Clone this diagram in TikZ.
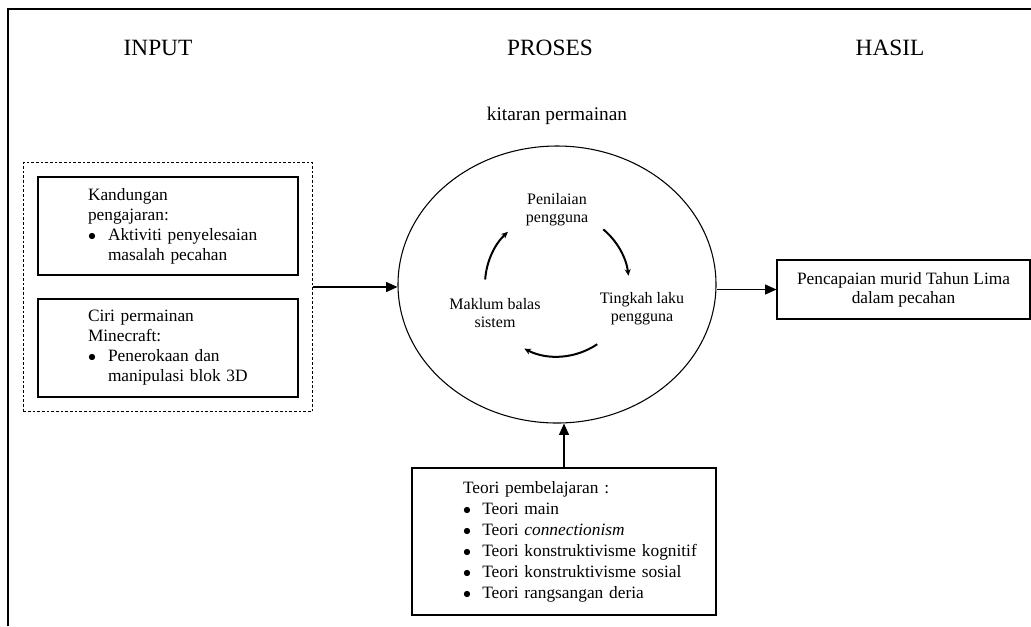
\documentclass[tikz,border=0pt]{standalone}
\usepackage{fontspec}
\setmainfont{Liberation Serif}
\usetikzlibrary{shapes.geometric, arrows.meta, fit}

\begin{document}
\begin{tikzpicture}[x=0.75pt, y=-0.75pt]
    \tikzstyle{head} = [font=\fontsize{17.5}{20}\selectfont, anchor=base]
    \tikzstyle{box} = [rectangle, draw, line width=0.8pt, text width=175pt, inner xsep=10pt, inner ysep=0pt, minimum height=73.5pt, align=left, font=\fontsize{13}{15}\selectfont]
    \tikzstyle{cyctext} = [align=center, inner sep=1pt, font=\fontsize{12}{13.5}\selectfont]
    \tikzstyle{line} = [draw, line width=0.8pt, -{Triangle[length=8.5pt, width=7.5pt]}]
    \tikzstyle{cyc} = [draw, line width=1.5pt, -{Stealth[length=5pt, width=4.5pt]}]

    \useasboundingbox (0,0) rectangle (1031,626);
    \draw[line width=2pt] (8,626) -- (8,9) -- (1031,9);

    % headings
    \node[head] (tinput) at (158,55) {INPUT};
    \node[head] (tproses) at (550,55) {PROSES};
    \node[head] (thasil) at (890,55) {HASIL};

    % input
    \node[box] (kandungan) at (168,226) {\leftskip=27.5pt Kandungan\\pengajaran:\\\makebox[15pt][l]{$\bullet$}Aktiviti penyelesaian\\\hspace*{15pt}masalah pecahan\par};
    \node[box] (ciri) at (168,348) {\leftskip=27.5pt Ciri permainan\\Minecraft:\\\makebox[15pt][l]{$\bullet$}Penerokaan dan\\\hspace*{15pt}manipulasi blok 3D\par};
    \node[draw, line width=0.6pt, dash pattern=on 2pt off 1.5pt, fit=(kandungan)(ciri), inner sep=10.5pt] (inputgrp) {};

    % proses
    \node[font=\fontsize{14.5}{16}\selectfont, anchor=base] (kitaranlbl) at (557,120) {kitaran permainan};
    \node[ellipse, draw, line width=0.8pt, minimum width=238.5pt, minimum height=207.75pt, inner sep=0pt] (kitaran) at (557,284.5) {};
    \node[cyctext] (penilaian) at (557,210) {Penilaian\\pengguna};
    \node[cyctext] (tingkah) at (642,309) {Tingkah laku\\pengguna};
    \node[cyctext] (maklum) at (495,313) {Maklum balas\\sistem};
    \foreach \a/\b in {176/133, 50/7, -56/-117}
        \draw[cyc] ([shift={(\a:54pt)}]kitaran.center) arc[start angle=\a, end angle=\b, radius=54pt];

    % hasil
    \node[rectangle, draw, line width=0.8pt, minimum width=189.75pt, minimum height=44.25pt, align=center, font=\fontsize{13}{14.25}\selectfont] (hasil) at (903.5,289.5) {Pencapaian murid Tahun Lima\\dalam pecahan};

    % teori
    \node[box, text width=208pt, minimum height=110.25pt, font=\fontsize{13}{15.75}\selectfont] (teori) at (564,541.5) {\leftskip=28.25pt Teori pembelajaran :\\\makebox[14.5pt][l]{$\bullet$}Teori main\\\makebox[14.5pt][l]{$\bullet$}Teori \textit{connectionism}\\\makebox[14.5pt][l]{$\bullet$}Teori konstruktivisme kognitif\\\makebox[14.5pt][l]{$\bullet$}Teori konstruktivisme sosial\\\makebox[14.5pt][l]{$\bullet$}Teori rangsangan deria\par};

    \path [line] (inputgrp.east) -- (inputgrp.east -| kitaran.west);
    \path [line] (kitaran.east |- hasil.west) -- (hasil.west);
    \path [line] (teori.north) -- (teori.north |- kitaran.south);
\end{tikzpicture}
\end{document}
